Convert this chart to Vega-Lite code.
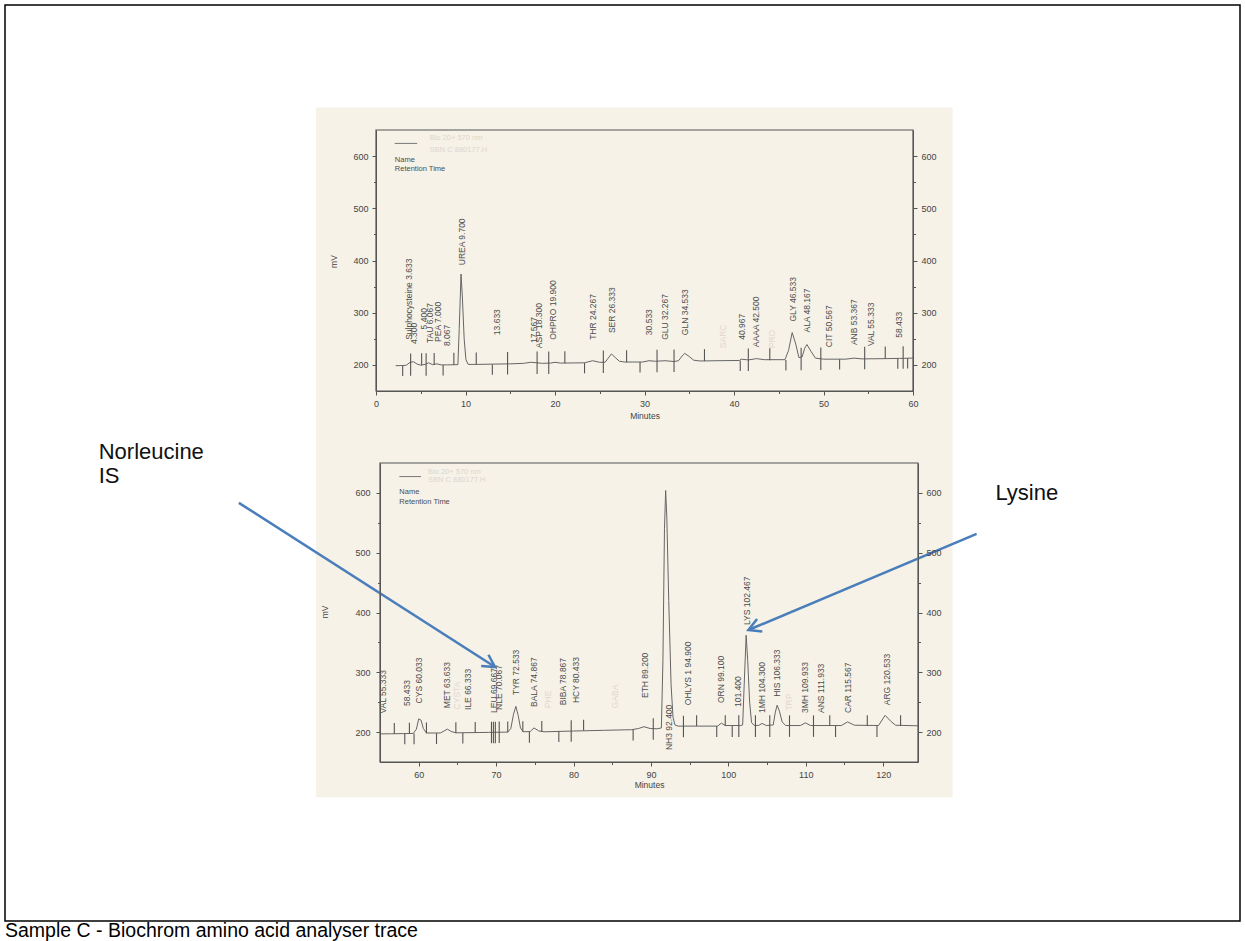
{
  "$schema": "https://vega.github.io/schema/vega-lite/v6.json",
  "width": 1235,
  "height": 916,
  "autosize": {"type": "none"},
  "padding": {"left": 5, "top": 5, "right": 5, "bottom": 20},
  "background": "#ffffff",
  "title": {"text": "Sample C - Biochrom amino acid analyser trace", "orient": "bottom", "anchor": "start", "frame": "group", "offset": 1, "font": "Liberation Sans", "fontSize": 19.5, "fontWeight": "normal", "color": "#000000", "baseline": "top"},
  "config": {
    "view": {"stroke": "#000000", "strokeWidth": 1.5},
    "axis": {"grid": false, "domainColor": "#555555", "tickColor": "#555555", "labelColor": "#444444", "titleColor": "#444444", "labelFont": "Liberation Sans", "titleFont": "Liberation Sans", "labelFontSize": 9, "titleFontSize": 8.5, "titleFontWeight": "normal", "tickSize": 4, "labelOverlap": false, "labelFlush": false}
  },
  "datasets": {
    "topTrace": [
      {"t":2.2,"v":198.5},{"t":3.0,"v":198.8},{"t":3.4,"v":199.5},{"t":3.8,"v":205},{"t":4.2,"v":206},{"t":4.6,"v":201.5},{"t":5.0,"v":199.5},{"t":5.5,"v":201},{"t":5.9,"v":204},{"t":6.3,"v":200.5},{"t":6.8,"v":202},{"t":7.3,"v":200},{"t":8.0,"v":200},{"t":9.15,"v":200.5},{"t":9.3,"v":270},{"t":9.5,"v":374},{"t":9.65,"v":330},{"t":9.85,"v":250},{"t":10.05,"v":210},{"t":10.3,"v":201},{"t":11.5,"v":201},{"t":13.0,"v":201.5},{"t":15.0,"v":202},{"t":16.5,"v":203},{"t":17.3,"v":205},{"t":18.0,"v":204},{"t":18.6,"v":203},{"t":19.5,"v":203.5},{"t":20.0,"v":205},{"t":20.6,"v":203.5},{"t":23.3,"v":204},{"t":24.2,"v":208},{"t":25.0,"v":205},{"t":25.6,"v":205},{"t":25.9,"v":212},{"t":26.3,"v":221},{"t":26.8,"v":213},{"t":27.2,"v":207},{"t":27.8,"v":205.5},{"t":29.8,"v":205.5},{"t":30.5,"v":208},{"t":31.2,"v":207},{"t":32.3,"v":208},{"t":33.3,"v":206.5},{"t":33.8,"v":208},{"t":34.2,"v":217},{"t":34.5,"v":222},{"t":35.0,"v":216},{"t":35.5,"v":209},{"t":36.2,"v":207.5},{"t":38.0,"v":208},{"t":40.6,"v":208.5},{"t":40.8,"v":211},{"t":41.6,"v":209.5},{"t":42.5,"v":212},{"t":43.4,"v":210},{"t":45.7,"v":210},{"t":46.1,"v":228},{"t":46.5,"v":262},{"t":46.9,"v":240},{"t":47.25,"v":214},{"t":47.6,"v":215},{"t":47.9,"v":232},{"t":48.15,"v":239},{"t":48.6,"v":226},{"t":49.1,"v":213},{"t":50.0,"v":211},{"t":52.5,"v":211},{"t":53.4,"v":213},{"t":54.3,"v":211.5},{"t":57.0,"v":212},{"t":58.5,"v":212.5},{"t":60.0,"v":213}
    ],
    "topTicks": [
      {"t":2.98,"lo":178.7,"hi":198.7},{"t":3.87,"lo":179,"hi":222},{"t":5.1,"lo":199.3,"hi":222.3},{"t":5.6,"lo":179.4,"hi":222.4},{"t":6.5,"lo":199.6,"hi":222.6},{"t":7.5,"lo":179.9,"hi":199.9},{"t":8.7,"lo":200.2,"hi":223.2},{"t":11.2,"lo":200.8,"hi":223.8},{"t":13.0,"lo":181.3,"hi":201.3},{"t":14.7,"lo":181.7,"hi":224.7},{"t":18.0,"lo":182.5,"hi":225.5},{"t":19.3,"lo":182.8,"hi":225.8},{"t":21.1,"lo":203.3,"hi":226.3},{"t":23.3,"lo":183.8,"hi":203.8},{"t":25.4,"lo":184.4,"hi":227.4},{"t":28.0,"lo":205,"hi":228},{"t":29.5,"lo":185.4,"hi":205.4},{"t":31.4,"lo":185.9,"hi":228.9},{"t":33.3,"lo":186.3,"hi":229.3},{"t":36.7,"lo":207.2,"hi":230.2},{"t":40.7,"lo":188.2,"hi":208.2},{"t":41.6,"lo":188.4,"hi":231.4},{"t":44.0,"lo":209,"hi":232},{"t":45.8,"lo":189.5,"hi":209.5},{"t":47.5,"lo":189.9,"hi":232.9},{"t":49.7,"lo":190.4,"hi":233.4},{"t":51.8,"lo":191,"hi":211},{"t":54.6,"lo":191.7,"hi":234.7},{"t":56.9,"lo":212.2,"hi":235.2},{"t":58.3,"lo":192.6,"hi":212.6},{"t":58.9,"lo":192.7,"hi":235.7},{"t":59.4,"lo":192.9,"hi":212.9}
    ],
    "topLabels": [
      {"t":3.633,"v":248,"label":"Sulphocysteine 3.633","kind":"n"},
      {"t":4.3,"v":240,"label":"4.300","kind":"n"},
      {"t":5.4,"v":268,"label":"5.400","kind":"n"},
      {"t":6.067,"v":242,"label":"TAU 6.067","kind":"n"},
      {"t":6.9,"v":244,"label":"PEA 7.000","kind":"n"},
      {"t":7.95,"v":236,"label":"8.067","kind":"n"},
      {"t":9.6,"v":391,"label":"UREA 9.700","kind":"n"},
      {"t":13.55,"v":257,"label":"13.633","kind":"n"},
      {"t":17.6,"v":242,"label":"17.567","kind":"n"},
      {"t":18.25,"v":232,"label":"ASP 18.300","kind":"n"},
      {"t":19.8,"v":248,"label":"OHPRO 19.900","kind":"n"},
      {"t":24.27,"v":248,"label":"THR 24.267","kind":"n"},
      {"t":26.33,"v":261,"label":"SER 26.333","kind":"n"},
      {"t":30.53,"v":257,"label":"30.533","kind":"n"},
      {"t":32.27,"v":248,"label":"GLU 32.267","kind":"n"},
      {"t":34.53,"v":257,"label":"GLN 34.533","kind":"n"},
      {"t":38.8,"v":232,"label":"SARC","kind":"f"},
      {"t":40.9,"v":248,"label":"40.967","kind":"n"},
      {"t":42.5,"v":234,"label":"AAAA 42.500","kind":"n"},
      {"t":44.2,"v":232,"label":"PRO","kind":"f"},
      {"t":46.55,"v":283,"label":"GLY 46.533","kind":"n"},
      {"t":48.17,"v":262,"label":"ALA 48.167","kind":"n"},
      {"t":50.6,"v":234,"label":"CIT 50.567","kind":"n"},
      {"t":53.37,"v":238,"label":"ANB 53.367","kind":"n"},
      {"t":55.35,"v":236,"label":"VAL 55.333","kind":"n"},
      {"t":58.45,"v":252,"label":"58.433","kind":"n"}
    ],
    "topLegendText": [
      {"t":6.0,"v":635,"label":"Bio 20+ 570 nm","kind":"f"},
      {"t":6.0,"v":611.2,"label":"SBN C 880177.H","kind":"f"},
      {"t":2.1,"v":592.3,"label":"Name","kind":"n"},
      {"t":2.1,"v":574.5,"label":"Retention Time","kind":"n"}
    ],
    "topLegendLine": [{"t":2.1,"t2":4.6,"v":624.3}],
    "botTrace": [
      {"t":55.0,"v":197},{"t":56.5,"v":197.2},{"t":58.0,"v":197.5},{"t":59.3,"v":197.8},{"t":59.7,"v":205},{"t":60.0,"v":222},{"t":60.3,"v":220},{"t":60.6,"v":206},{"t":61.0,"v":198.5},{"t":62.8,"v":198.5},{"t":63.3,"v":202},{"t":63.7,"v":205},{"t":64.2,"v":201},{"t":64.8,"v":198.8},{"t":69.0,"v":199.5},{"t":71.5,"v":200},{"t":71.9,"v":206},{"t":72.25,"v":230},{"t":72.55,"v":243},{"t":72.85,"v":228},{"t":73.15,"v":207},{"t":73.5,"v":200.5},{"t":74.4,"v":201},{"t":74.9,"v":207},{"t":75.5,"v":202},{"t":76.2,"v":200.5},{"t":80.0,"v":201.8},{"t":84.0,"v":203},{"t":87.5,"v":204},{"t":88.4,"v":206},{"t":89.1,"v":209},{"t":89.9,"v":206},{"t":90.8,"v":205.5},{"t":91.35,"v":207},{"t":91.55,"v":320},{"t":91.75,"v":540},{"t":91.9,"v":604},{"t":92.05,"v":560},{"t":92.3,"v":420},{"t":92.6,"v":280},{"t":92.85,"v":225},{"t":93.1,"v":212},{"t":93.5,"v":210},{"t":98.6,"v":210},{"t":99.1,"v":215},{"t":99.6,"v":211},{"t":101.6,"v":211},{"t":101.85,"v":212},{"t":102.05,"v":280},{"t":102.3,"v":362},{"t":102.5,"v":320},{"t":102.75,"v":250},{"t":103.0,"v":216},{"t":103.3,"v":211.5},{"t":103.9,"v":211},{"t":104.35,"v":214.5},{"t":104.9,"v":211},{"t":105.8,"v":212},{"t":106.05,"v":232},{"t":106.3,"v":245},{"t":106.6,"v":235},{"t":106.95,"v":217},{"t":107.4,"v":211},{"t":109.3,"v":211},{"t":109.95,"v":215.5},{"t":110.6,"v":211},{"t":114.6,"v":211},{"t":115.4,"v":217},{"t":116.3,"v":211.5},{"t":119.4,"v":211},{"t":120.25,"v":228},{"t":121.0,"v":218},{"t":121.6,"v":211.5},{"t":124.5,"v":210.5}
    ],
    "botTicks": [
      {"t":56.85,"lo":197.3,"hi":215.3},{"t":58.2,"lo":179.5,"hi":197.5},{"t":58.8,"lo":197.6,"hi":215.6},{"t":59.4,"lo":179.7,"hi":197.7},{"t":61.0,"lo":198,"hi":216},{"t":62.3,"lo":180.2,"hi":198.2},{"t":64.8,"lo":198.6,"hi":216.6},{"t":65.7,"lo":180.8,"hi":198.8},{"t":67.3,"lo":199,"hi":217},{"t":69.4,"lo":181.4,"hi":217.4},{"t":69.65,"lo":181.4,"hi":217.4},{"t":69.9,"lo":181.5,"hi":217.5},{"t":70.4,"lo":181.6,"hi":217.6},{"t":71.5,"lo":199.8,"hi":217.8},{"t":73.45,"lo":200.1,"hi":218.1},{"t":74.3,"lo":182.2,"hi":200.2},{"t":75.9,"lo":200.5,"hi":218.5},{"t":78.1,"lo":183.5,"hi":201.5},{"t":79.7,"lo":184,"hi":220},{"t":81.3,"lo":202.5,"hi":220.5},{"t":87.7,"lo":186,"hi":204},{"t":90.3,"lo":187,"hi":223},{"t":94.2,"lo":191.5,"hi":227.5},{"t":95.9,"lo":210,"hi":228},{"t":98.5,"lo":192,"hi":210},{"t":99.6,"lo":210,"hi":228},{"t":100.5,"lo":192,"hi":210},{"t":101.35,"lo":192,"hi":228},{"t":103.5,"lo":192,"hi":228},{"t":105.35,"lo":192,"hi":228},{"t":107.9,"lo":192,"hi":228},{"t":111.0,"lo":192,"hi":228},{"t":113.1,"lo":210,"hi":228},{"t":113.85,"lo":192,"hi":210},{"t":117.95,"lo":210,"hi":228},{"t":119.2,"lo":192,"hi":210},{"t":122.25,"lo":210,"hi":228}
    ],
    "botLabels": [
      {"t":55.4,"v":231,"label":"VAL 55.333","kind":"n"},
      {"t":58.45,"v":243.5,"label":"58.433","kind":"n"},
      {"t":60.1,"v":248,"label":"CYS 60.033","kind":"n"},
      {"t":63.6,"v":240,"label":"MET 63.633","kind":"n"},
      {"t":64.9,"v":238,"label":"CYSTA","kind":"f"},
      {"t":66.33,"v":237,"label":"ILE 66.333","kind":"n"},
      {"t":69.7,"v":232,"label":"LEU 69.667","kind":"n"},
      {"t":70.35,"v":237,"label":"NLE 70.067","kind":"n"},
      {"t":72.55,"v":262,"label":"TYR 72.533","kind":"n"},
      {"t":74.85,"v":242,"label":"BALA 74.867","kind":"n"},
      {"t":76.7,"v":240,"label":"PHE","kind":"f"},
      {"t":78.7,"v":245,"label":"BIBA 78.867","kind":"n"},
      {"t":80.3,"v":248.5,"label":"HCY 80.433","kind":"n"},
      {"t":85.4,"v":240,"label":"GABA","kind":"f"},
      {"t":89.2,"v":257,"label":"ETH 89.200","kind":"n"},
      {"t":92.3,"v":170,"label":"NH3 92.400","kind":"n"},
      {"t":94.8,"v":245,"label":"OHLYS 1 94.900","kind":"n"},
      {"t":99.05,"v":248.5,"label":"ORN 99.100","kind":"n"},
      {"t":101.3,"v":242,"label":"101.400","kind":"n"},
      {"t":102.45,"v":379,"label":"LYS 102.467","kind":"n"},
      {"t":104.35,"v":232,"label":"1MH 104.300","kind":"n"},
      {"t":106.33,"v":259,"label":"HIS 106.333","kind":"n"},
      {"t":107.9,"v":236,"label":"TRP","kind":"f"},
      {"t":109.95,"v":232,"label":"3MH 109.933","kind":"n"},
      {"t":111.93,"v":232,"label":"ANS 111.933","kind":"n"},
      {"t":115.45,"v":232,"label":"CAR 115.567","kind":"n"},
      {"t":120.5,"v":245,"label":"ARG 120.533","kind":"n"}
    ],
    "botLegendText": [
      {"t":61.2,"v":635.6,"label":"Bio 20+ 570 nm","kind":"f"},
      {"t":61.2,"v":621.7,"label":"SBN C 880177.H","kind":"f"},
      {"t":57.5,"v":601.2,"label":"Name","kind":"n"},
      {"t":57.5,"v":585.4,"label":"Retention Time","kind":"n"}
    ],
    "botLegendLine": [{"t":57.5,"t2":60.3,"v":627.3}],
    "botAxisTitle": [{"t":47.9,"v":401,"label":"mV"}],
    "arrows": [
      {"x1":36.77,"y1":583.3,"x2":69.87,"y2":308.8},
      {"x1":132.07,"y1":531.4,"x2":102.59,"y2":370.7}
    ],
    "notes": [
      {"t":18.66,"v":656.9,"label":"Norleucine"},
      {"t":18.66,"v":616.7,"label":"IS"},
      {"t":134.5,"v":588.3,"label":"Lysine"}
    ]
  },
  "layer": [
    {
      "layer": [
        {
          "data": {"values": [{}]},
          "mark": {"type": "rect", "color": "#f6f2e8"},
          "encoding": {
            "x": {"datum": 46.72, "type": "quantitative", "axis": null},
            "x2": {"datum": 128.97},
            "y": {"datum": 1244.4, "type": "quantitative", "axis": null},
            "y2": {"datum": 91.2}
          }
        },
        {
          "data": {"values": [{}]},
          "mark": {"type": "rect", "filled": false, "stroke": "#555555", "strokeWidth": 1.2},
          "encoding": {
            "x": {"datum": 55, "type": "quantitative", "axis": null},
            "x2": {"datum": 124.5},
            "y": {"datum": 150, "type": "quantitative", "axis": null},
            "y2": {"datum": 650}
          }
        },
        {
          "data": {"name": "botTrace"},
          "mark": {"type": "line", "color": "#666666", "strokeWidth": 1},
          "encoding": {
            "x": {"field": "t", "type": "quantitative", "scale": {"domain": [55, 124.5], "range": [375, 913], "nice": false, "zero": false},
                  "axis": {"orient": "bottom", "offset": -159, "zindex": 2, "values": [60, 70, 80, 90, 100, 110, 120], "title": "Minutes", "labelPadding": 4, "titlePadding": 1}},
            "y": {"field": "v", "type": "quantitative", "scale": {"domain": [150, 650], "range": [757, 458], "nice": false, "zero": false},
                  "axis": {"orient": "left", "offset": -375, "zindex": 2, "values": [200, 300, 400, 500, 600], "title": null, "labelPadding": 6}}
          }
        },
        {
          "data": {"name": "botTicks"},
          "mark": {"type": "rule", "color": "#555555", "strokeWidth": 1.1},
          "encoding": {
            "x": {"field": "t", "type": "quantitative", "axis": {"orient": "bottom", "offset": -159, "zindex": 2, "values": [65, 75, 85, 95, 105, 115], "labels": false, "domain": false, "tickSize": 2.5, "title": null}},
            "y": {"field": "lo", "type": "quantitative", "axis": {"orient": "right", "offset": -322, "zindex": 2, "values": [200, 300, 400, 500, 600], "title": null, "labelPadding": 4}},
            "y2": {"field": "hi"}
          }
        },
        {
          "data": {"name": "botLegendLine"},
          "mark": {"type": "rule", "color": "#777777", "strokeWidth": 1},
          "encoding": {
            "x": {"field": "t", "type": "quantitative", "axis": null},
            "x2": {"field": "t2"},
            "y": {"field": "v", "type": "quantitative", "axis": {"orient": "left", "offset": -375, "zindex": 2, "values": [250, 350, 450, 550], "labels": false, "domain": false, "tickSize": 2.5, "title": null}}
          }
        },
        {
          "data": {"name": "botLabels"},
          "mark": {"type": "text", "angle": 270, "align": "left", "baseline": "middle", "font": "Liberation Sans", "fontSize": 8.5},
          "encoding": {
            "x": {"field": "t", "type": "quantitative", "axis": null},
            "y": {"field": "v", "type": "quantitative", "axis": {"orient": "right", "offset": -322, "zindex": 2, "values": [250, 350, 450, 550], "labels": false, "domain": false, "tickSize": 2.5, "title": null}},
            "text": {"field": "label"},
            "color": {"condition": {"test": "datum.kind === 'f'", "value": "#e3d6cf"}, "value": "#4d4d4d"}
          }
        },
        {
          "data": {"name": "botLegendText"},
          "mark": {"type": "text", "align": "left", "baseline": "middle", "font": "Liberation Sans", "fontSize": 7.5},
          "encoding": {
            "x": {"field": "t", "type": "quantitative", "axis": null},
            "y": {"field": "v", "type": "quantitative", "axis": null},
            "text": {"field": "label"},
            "color": {"condition": {"test": "datum.kind === 'f'", "value": "#ddd6cc"}, "value": "#4d4d4d"}
          }
        },
        {
          "data": {"name": "botAxisTitle"},
          "mark": {"type": "text", "angle": 270, "align": "center", "baseline": "middle", "font": "Liberation Sans", "fontSize": 8.5, "color": "#444444"},
          "encoding": {
            "x": {"field": "t", "type": "quantitative", "axis": null},
            "y": {"field": "v", "type": "quantitative", "axis": null},
            "text": {"field": "label"}
          }
        },
        {
          "data": {"name": "arrows"},
          "mark": {"type": "rule", "color": "#4a7ebb", "strokeWidth": 2.5},
          "encoding": {
            "x": {"field": "x1", "type": "quantitative", "axis": null},
            "y": {"field": "y1", "type": "quantitative", "axis": null},
            "x2": {"field": "x2"},
            "y2": {"field": "y2"}
          }
        },
        {
          "data": {"values": [{"x": 69.87, "y": 308.8}]},
          "mark": {"type": "point", "shape": "M -1 -0.55 L 0 0 L -1 0.55", "filled": false, "color": "#4a7ebb", "strokeWidth": 2.5, "size": 600, "angle": 32.6, "opacity": 1},
          "encoding": {
            "x": {"field": "x", "type": "quantitative", "axis": null},
            "y": {"field": "y", "type": "quantitative", "axis": null}
          }
        },
        {
          "data": {"values": [{"x": 102.59, "y": 370.7}]},
          "mark": {"type": "point", "shape": "M -1 -0.55 L 0 0 L -1 0.55", "filled": false, "color": "#4a7ebb", "strokeWidth": 2.5, "size": 600, "angle": 157.2, "opacity": 1},
          "encoding": {
            "x": {"field": "x", "type": "quantitative", "axis": null},
            "y": {"field": "y", "type": "quantitative", "axis": null}
          }
        },
        {
          "data": {"name": "notes"},
          "mark": {"type": "text", "align": "left", "baseline": "alphabetic", "font": "Liberation Sans", "fontSize": 22, "color": "#111111"},
          "encoding": {
            "x": {"field": "t", "type": "quantitative", "axis": null},
            "y": {"field": "v", "type": "quantitative", "axis": null},
            "text": {"field": "label"}
          }
        }
      ],
      "resolve": {"axis": {"x": "independent", "y": "independent"}}
    },
    {
      "layer": [
        {
          "data": {"values": [{}]},
          "mark": {"type": "rect", "filled": false, "stroke": "#555555", "strokeWidth": 1.2},
          "encoding": {
            "x": {"datum": 0, "type": "quantitative", "axis": null},
            "x2": {"datum": 60},
            "y": {"datum": 150, "type": "quantitative", "axis": null},
            "y2": {"datum": 650}
          }
        },
        {
          "data": {"name": "topTrace"},
          "mark": {"type": "line", "color": "#666666", "strokeWidth": 1},
          "encoding": {
            "x": {"field": "t", "type": "quantitative", "scale": {"domain": [0, 60], "range": [371, 908], "nice": false, "zero": false},
                  "axis": {"orient": "bottom", "offset": -530, "zindex": 2, "values": [0, 10, 20, 30, 40, 50, 60], "title": "Minutes", "labelPadding": 4, "titlePadding": 3}},
            "y": {"field": "v", "type": "quantitative", "scale": {"domain": [150, 650], "range": [386, 125], "nice": false, "zero": false},
                  "axis": {"orient": "left", "offset": -371, "zindex": 2, "values": [200, 300, 400, 500, 600], "title": "mV", "labelPadding": 4, "titleX": -38, "titleY": 256}}
          }
        },
        {
          "data": {"name": "topTicks"},
          "mark": {"type": "rule", "color": "#555555", "strokeWidth": 1.1},
          "encoding": {
            "x": {"field": "t", "type": "quantitative", "axis": {"orient": "bottom", "offset": -530, "zindex": 2, "values": [5, 15, 25, 35, 45, 55], "labels": false, "domain": false, "tickSize": 2.5, "title": null}},
            "y": {"field": "lo", "type": "quantitative", "axis": {"orient": "right", "offset": -327, "zindex": 2, "values": [200, 300, 400, 500, 600], "title": null, "labelPadding": 4}},
            "y2": {"field": "hi"}
          }
        },
        {
          "data": {"name": "topLegendLine"},
          "mark": {"type": "rule", "color": "#777777", "strokeWidth": 1},
          "encoding": {
            "x": {"field": "t", "type": "quantitative", "axis": null},
            "x2": {"field": "t2"},
            "y": {"field": "v", "type": "quantitative", "axis": {"orient": "left", "offset": -371, "zindex": 2, "values": [250, 350, 450, 550], "labels": false, "domain": false, "tickSize": 2.5, "title": null}}
          }
        },
        {
          "data": {"name": "topLabels"},
          "mark": {"type": "text", "angle": 270, "align": "left", "baseline": "middle", "font": "Liberation Sans", "fontSize": 8.5},
          "encoding": {
            "x": {"field": "t", "type": "quantitative", "axis": null},
            "y": {"field": "v", "type": "quantitative", "axis": {"orient": "right", "offset": -327, "zindex": 2, "values": [250, 350, 450, 550], "labels": false, "domain": false, "tickSize": 2.5, "title": null}},
            "text": {"field": "label"},
            "color": {"condition": {"test": "datum.kind === 'f'", "value": "#e3d6cf"}, "value": "#4d4d4d"}
          }
        },
        {
          "data": {"name": "topLegendText"},
          "mark": {"type": "text", "align": "left", "baseline": "middle", "font": "Liberation Sans", "fontSize": 7.5},
          "encoding": {
            "x": {"field": "t", "type": "quantitative", "axis": null},
            "y": {"field": "v", "type": "quantitative", "axis": null},
            "text": {"field": "label"},
            "color": {"condition": {"test": "datum.kind === 'f'", "value": "#ddd6cc"}, "value": "#4d4d4d"}
          }
        }
      ],
      "resolve": {"axis": {"x": "independent", "y": "independent"}}
    }
  ],
  "resolve": {"scale": {"x": "independent", "y": "independent"}}
}
